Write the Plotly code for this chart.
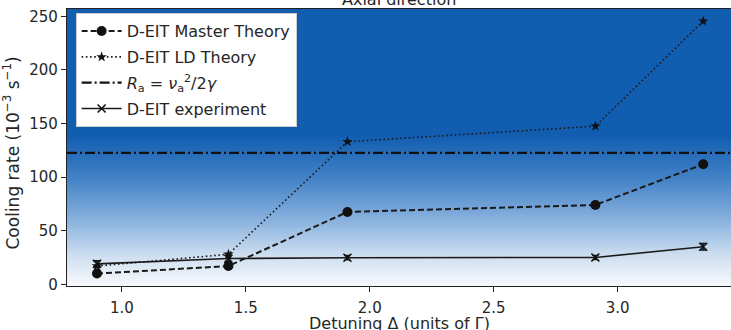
import numpy as np
import plotly.graph_objects as go

# ---- data ----
detuning = [0.90, 1.43, 1.91, 2.91, 3.345]
master_theory = [10, 17, 67.5, 74, 112]
ld_theory = [17, 28, 133, 147.5, 245.5]
experiment = [19, 24, 24.8, 25, 35]
experiment_err = [3, 3, 2, 2, 3]
R_a = 122.5

x_range = [0.779, 3.457]
y_range = [-1.6, 256.8]
x_ticks = [1.0, 1.5, 2.0, 2.5, 3.0]
y_ticks = [0, 50, 100, 150, 200, 250]

TXT = "#262626"
FONT = "DejaVu Sans"

fig = go.Figure()

# background gradient (blue at top fading to white at bottom)
gy = np.linspace(-10, 270, 200)
gz = np.column_stack([gy, gy])
fig.add_trace(go.Heatmap(
    x=[0.0, 4.5], y=gy, z=gz, zmin=0, zmax=140, zsmooth="best",
    colorscale=[[0.0, "rgb(246,248,252)"], [0.2, "rgb(205,222,240)"],
                [0.4, "rgb(145,183,224)"], [0.7, "rgb(68,131,199)"],
                [1.0, "rgb(17,93,176)"]],
    showscale=False, hoverinfo="skip", showlegend=False))

fig.add_trace(go.Scatter(
    x=detuning, y=master_theory, mode="lines+markers", name="D-EIT Master Theory",
    line=dict(color="#1a1a1a", width=2, dash="6px,3px"),
    marker=dict(symbol="circle", size=10, color="#111"), legendgroup="a"))

fig.add_trace(go.Scatter(
    x=detuning, y=ld_theory, mode="lines+markers", name="D-EIT LD Theory",
    line=dict(color="#1a1a1a", width=1.6, dash="1.6px,2.6px"),
    marker=dict(symbol="star", size=8, color="#111"), legendgroup="b"))

fig.add_trace(go.Scatter(
    x=x_range, y=[R_a, R_a], mode="lines",
    name="<i>R</i><sub>a</sub> = <i>ν</i><sub>a</sub><sup>2</sup>/2<i>γ</i>",
    line=dict(color="#111", width=2.2, dash="10px,3px,2px,3px"), legendgroup="c"))

fig.add_trace(go.Scatter(
    x=detuning, y=experiment, mode="lines+markers", name="D-EIT experiment",
    line=dict(color="#1a1a1a", width=1.6),
    marker=dict(symbol="x-thin", size=8, color="#111", line=dict(width=1.6, color="#111")),
    error_y=dict(type="data", array=experiment_err, color="#111", thickness=1.4, width=3),
    legendgroup="d"))

fig.add_annotation(
    text="Axial direction", xref="paper", yref="paper", x=0.5, y=1,
    yanchor="bottom", yshift=-2, showarrow=False,
    font=dict(family=FONT, size=16, color=TXT))

# y-axis title as rotated annotation
fig.add_annotation(
    text="Cooling rate (10<sup>−3</sup> s<sup>−1</sup>)", textangle=-90,
    xref="paper", yref="paper", x=0, y=0.5, xanchor="center", yanchor="middle",
    xshift=-56, yshift=-6, showarrow=False,
    font=dict(family=FONT, size=17, color=TXT))

# x-axis title as annotation (partly cut by the bottom edge, as in the original)
fig.add_annotation(
    text="Detuning Δ (units of Γ)",
    xref="paper", yref="paper", x=0.5, y=0, xanchor="center", yanchor="top",
    yshift=-26, showarrow=False,
    font=dict(family=FONT, size=16, color=TXT))

fig.update_layout(
    width=731, height=330,
    margin=dict(l=67, r=0, t=9, b=44),
    paper_bgcolor="white", plot_bgcolor="white",
    font=dict(family=FONT, color=TXT, size=15),
    legend=dict(x=0.013, y=0.985, xanchor="left", yanchor="top",
                bgcolor="white", bordercolor="#cccccc", borderwidth=1,
                font=dict(family=FONT, size=16, color=TXT),
                itemwidth=40,
                traceorder="grouped", tracegroupgap=2),
)
fig.update_xaxes(
    range=x_range, tickvals=x_ticks, ticktext=[f"{v:.1f}" for v in x_ticks],
    showgrid=False, zeroline=False, showline=True, linecolor="#222", linewidth=1.2,
    mirror=True, ticks="outside", ticklen=5, tickcolor="#222", ticklabelstandoff=3,
    tickfont=dict(family=FONT, size=15, color=TXT),
    automargin=False)
fig.update_yaxes(
    range=y_range, tickvals=y_ticks,
    showgrid=False, zeroline=False, showline=True, linecolor="#222", linewidth=1.2,
    ticks="outside", ticklen=5, tickcolor="#222",
    tickfont=dict(family=FONT, size=15, color=TXT),
    automargin=False)

fig.write_html("out.html")
